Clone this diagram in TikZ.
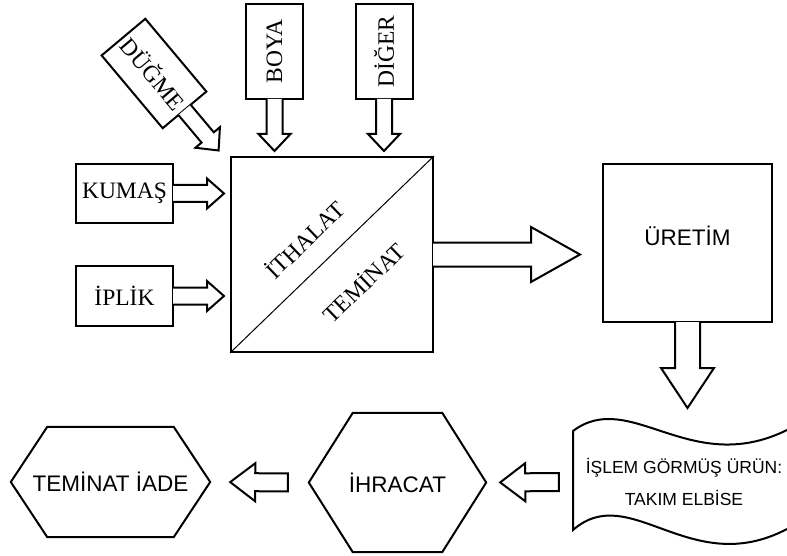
\documentclass[tikz,border=0pt]{standalone}
\usepackage{fontspec}
\setmainfont{Liberation Serif}
\setsansfont{Liberation Sans}
\usetikzlibrary{calc}

\newcommand{\serifyazi}{\fontsize{23.5}{27}\selectfont}
\newcommand{\sansyazi}{\sffamily\fontsize{22.5}{27}\selectfont}

% hollow block arrow: from, to, gap at start, gap at end, shaft, head, head length, closing
\newcommand{\blokok}[8]{%
  \coordinate (oka) at ($(#1)!#3!(#2)$);
  \coordinate (okb) at ($(#2)!#4!(#1)$);
  \coordinate (okc) at ($(okb)!#7!(oka)$);
  \filldraw[cizgi, fill=white] ($(oka)!#5!90:(okb)$) -- ($(okc)!#5!90:(okb)$)
    -- ($(okc)!#6!90:(okb)$) -- (okb) -- ($(okc)!#6!-90:(okb)$)
    -- ($(okc)!#5!-90:(okb)$) -- ($(oka)!#5!-90:(okb)$) #8;
}
% hexagon round a node: name, inset
\newcommand{\altigen}[2]{%
  \draw[cizgi] (#1.west) -- ([xshift=#2]#1.north west) -- ([xshift=-#2]#1.north east)
    -- (#1.east) -- ([xshift=-#2]#1.south east) -- ([xshift=#2]#1.south west) -- cycle;
}

\begin{document}
\begin{tikzpicture}[x=1pt, y=1pt,
  cizgi/.style={line width=2pt},
  girdi/.style={cizgi, draw, font=\serifyazi, minimum width=97pt, minimum height=59pt},
  dikey/.style={girdi, minimum width=95pt, minimum height=57pt},
  kutu/.style={cizgi, draw, font=\sansyazi},
  hexyazi/.style={font=\sansyazi}]

\useasboundingbox (0,0) rectangle (787,-556);

% Input boxes
\node[dikey, rotate=-50] (dugme) at (154,-73.5) {DÜĞME};
\node[dikey, rotate=90] (boya) at (274.5,-51.5) {BOYA};
\node[dikey, rotate=90] (diger) at (384,-51.5) {DİĞER};
\node[girdi] (kumas) at (124.5,-193.5) {KUMAŞ};
\node[girdi, minimum height=60pt] (iplik) at (124.5,-296) {İPLİK};

% The import / guarantee square
\node[cizgi, draw, minimum width=202pt, minimum height=195pt] (ithalat) at (332,-254.5) {};
\draw[line width=1pt] (ithalat.south west) -- (ithalat.north east);
\node[font=\serifyazi, rotate=44] (ithalatyazi) at (304,-239) {İTHALAT};
\node[font=\serifyazi, rotate=44] (teminatyazi) at (363,-282) {TEMİNAT};

% Production
\node[kutu, minimum width=169pt, minimum height=158pt, text height=16pt, text depth=12pt] (uretim) at (687.5,-243) {ÜRETİM};

% Product (tape shape)
\node[font=\sffamily\fontsize{17.5}{32}\selectfont, align=center, minimum width=222pt] (urun) at (684,-482) {İŞLEM GÖRMÜŞ ÜRÜN:\\TAKIM ELBİSE};
\draw[cizgi] (787,-430) .. controls (690,-478) and (630,-388) .. (573,-431)
  -- (573,-530) .. controls (630,-480) and (690,-580) .. (787,-529);

% Export and guarantee return
\node[hexyazi, minimum width=177pt, minimum height=139pt] (ihracat) at (397.5,-482.5) {İHRACAT};
\altigen{ihracat}{44pt}
\node[hexyazi, minimum width=199pt, minimum height=110pt] (teminat) at (110.5,-482) {TEMİNAT İADE};
\altigen{teminat}{36.5pt}

% Arrow ends
\coordinate (dugmeuc) at ($(dugme.east)!-52pt!(dugme.west)$);
\coordinate (boyauc) at (boya.west |- ithalat.north);
\coordinate (digeruc) at (diger.west |- ithalat.north);
\coordinate (kumasuc) at (kumas.east -| ithalat.west);
\coordinate (iplikuc) at (iplik.east -| ithalat.west);
\coordinate (ithalatuc) at (ithalat.east -| uretim.west);
\coordinate (uretimuc) at ($(uretim.south)+(0,-85)$);

% Draw the arrows
\blokok{dugme.east}{dugmeuc}{-1pt}{0pt}{8pt}{16pt}{17pt}{}
\blokok{boya.west}{boyauc}{-1pt}{5pt}{8pt}{16pt}{17pt}{}
\blokok{diger.west}{digeruc}{-1pt}{5pt}{8pt}{16pt}{17pt}{}
\blokok{kumas.east}{kumasuc}{-1pt}{6pt}{8.5pt}{15pt}{17pt}{}
\blokok{iplik.east}{iplikuc}{-1pt}{6pt}{8.5pt}{15pt}{17pt}{}
\blokok{ithalat.east}{ithalatuc}{-1pt}{22pt}{12pt}{27.5pt}{49pt}{}
\blokok{uretim.south}{uretimuc}{-1pt}{0pt}{12.5pt}{26.5pt}{40pt}{}
\blokok{urun.west}{ihracat.east}{14pt}{14pt}{9pt}{19pt}{25pt}{-- cycle}
\blokok{ihracat.west}{teminat.east}{21pt}{20pt}{9pt}{19pt}{25pt}{-- cycle}

\end{tikzpicture}
\end{document}
